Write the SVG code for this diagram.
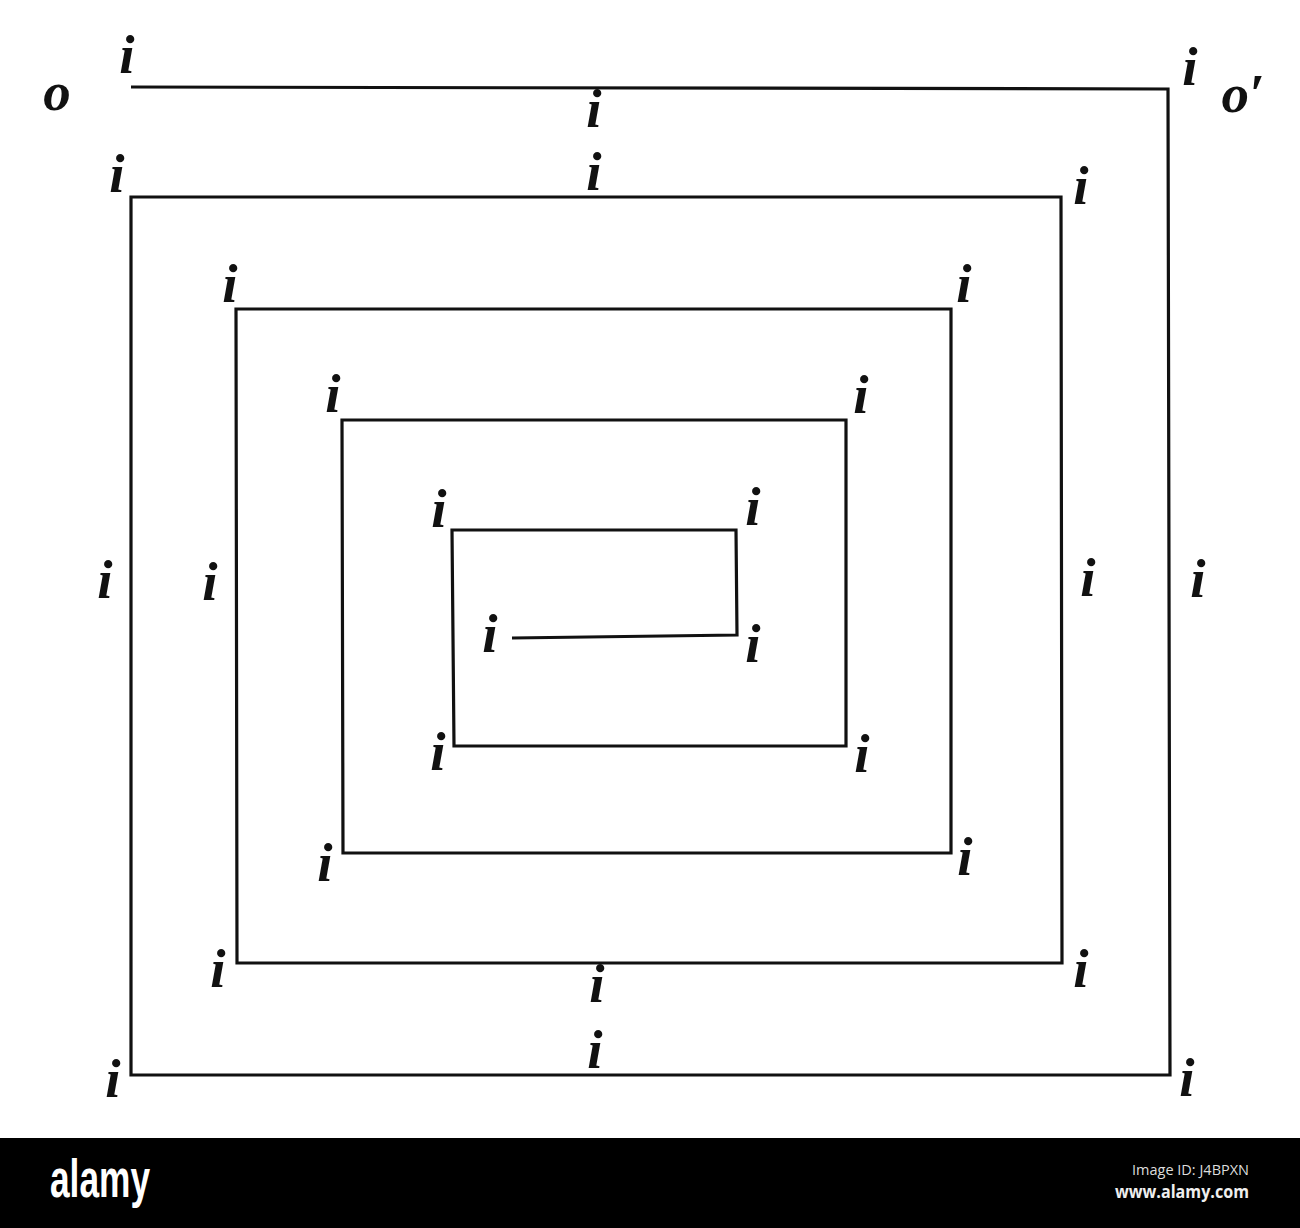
<svg xmlns="http://www.w3.org/2000/svg" width="1300" height="1228" viewBox="0 0 1300 1228">
<style>
.lbl{font-family:"Liberation Serif","DejaVu Serif",serif;font-style:italic;font-weight:bold;font-size:55px;fill:#111;text-anchor:middle}
.sp{fill:none;stroke:#111;stroke-width:3.2;stroke-linejoin:miter}
</style>
<rect width="1300" height="1228" fill="#fff"/>
<g id="connectors">
<path class="sp" d="M131,87 L1168,89 L1170,1075 L131,1075 L131,197 L1061,197 L1062,963 L237,963 L236,309 L951,309 L951,853 L343,853 L342,420 L846,420 L846,746 L454,746 L452,530 L736,530 L737,635 L512,638"/>
</g>
<g id="labels">
<text class="lbl" x="57" y="110">o</text>
<text class="lbl" x="1243" y="112">o′</text>
<text class="lbl" x="127" y="73">i</text>
<text class="lbl" x="1190" y="85">i</text>
<text class="lbl" x="594" y="127">i</text>
<text class="lbl" x="117" y="192">i</text>
<text class="lbl" x="594" y="190">i</text>
<text class="lbl" x="1081" y="204">i</text>
<text class="lbl" x="230" y="302">i</text>
<text class="lbl" x="964" y="302">i</text>
<text class="lbl" x="333" y="412">i</text>
<text class="lbl" x="861" y="413">i</text>
<text class="lbl" x="439" y="527">i</text>
<text class="lbl" x="753" y="525">i</text>
<text class="lbl" x="490" y="652">i</text>
<text class="lbl" x="753" y="662">i</text>
<text class="lbl" x="105" y="598">i</text>
<text class="lbl" x="210" y="600">i</text>
<text class="lbl" x="1088" y="596">i</text>
<text class="lbl" x="1198" y="597">i</text>
<text class="lbl" x="438" y="770">i</text>
<text class="lbl" x="862" y="772">i</text>
<text class="lbl" x="965" y="875">i</text>
<text class="lbl" x="325" y="881">i</text>
<text class="lbl" x="218" y="987">i</text>
<text class="lbl" x="597" y="1002">i</text>
<text class="lbl" x="1081" y="987">i</text>
<text class="lbl" x="595" y="1068">i</text>
<text class="lbl" x="113" y="1097">i</text>
<text class="lbl" x="1187" y="1096">i</text>
</g>
<g id="footer">
<rect x="0" y="1138" width="1300" height="90" fill="#000"/>
<text x="50" y="1197" font-family="Liberation Sans, sans-serif" font-weight="bold" font-size="54" fill="#fff" textLength="100" lengthAdjust="spacingAndGlyphs">alamy</text>
<text x="1132" y="1175" font-family="Open Sans, sans-serif" font-size="15" fill="#ddd" textLength="117" lengthAdjust="spacingAndGlyphs">Image ID: J4BPXN</text>
<text x="1115" y="1198" font-family="Open Sans, sans-serif" font-weight="bold" font-size="18" fill="#eee" textLength="134" lengthAdjust="spacingAndGlyphs">www.alamy.com</text>
</g>
</svg>
